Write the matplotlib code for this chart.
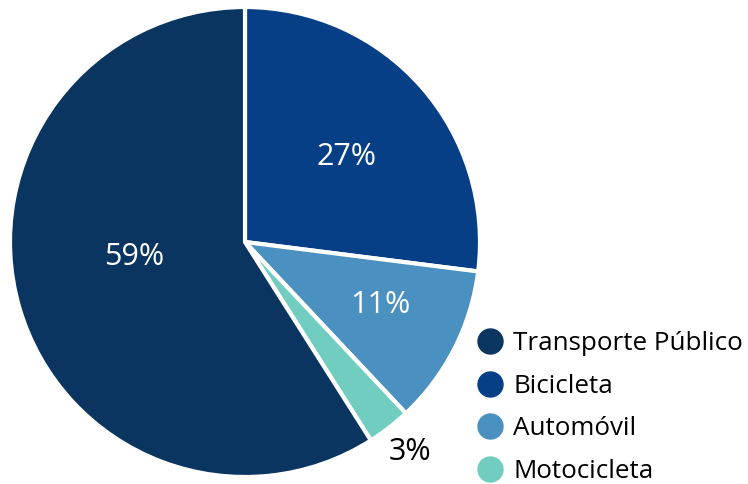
import matplotlib.pyplot as plt
from matplotlib.lines import Line2D
import numpy as np

labels = ['Transporte Público', 'Bicicleta', 'Automóvil', 'Motocicleta']
values = [59, 27, 11, 3]
colors = ['#0b3561', '#063f86', '#4a90c0', '#70cdbf']

# drawing order (clockwise from the top): Bicicleta, Automóvil, Motocicleta, Transporte
order = [1, 2, 3, 0]
# label placement in polar coords (radius, angle in degrees)
label_pos = {1: (0.573, 40.8), 2: (0.629, -24.0), 3: (1.126, -51.4), 0: (0.475, 186.2)}

plt.rcParams['font.family'] = ['Open Sans', 'DejaVu Sans']

fig = plt.figure(figsize=(7.48, 4.84), dpi=100)
ax = fig.add_axes([10 / 748, 7 / 484, 470 / 748, 470 / 484])

vals = [values[i] for i in order]
cols = [colors[i] for i in order]
wedges, _ = ax.pie(vals, colors=cols, startangle=90, counterclock=False,
                   wedgeprops=dict(edgecolor='white', linewidth=3))
ax.set_aspect('equal')
ax.set_xlim(-1, 1)
ax.set_ylim(-1, 1)

for i in order:
    r, a = label_pos[i]
    a = np.deg2rad(a)
    ax.text(r * np.cos(a), r * np.sin(a) - 0.013, f'{values[i]}%',
            ha='center', va='center', fontsize=22,
            color='white' if r < 1 else 'black')

handles = [Line2D([], [], marker='o', linestyle='', markersize=18,
                  markerfacecolor=c, markeredgecolor=c) for c in colors]
fig.legend(handles, labels, loc='upper left', bbox_to_anchor=(464 / 748, 1 - 321 / 484),
           frameon=False, fontsize=18.7, handletextpad=0.3, labelspacing=0.67,
           borderaxespad=0, handlelength=1.2)

fig.savefig('out.png', dpi=100)
